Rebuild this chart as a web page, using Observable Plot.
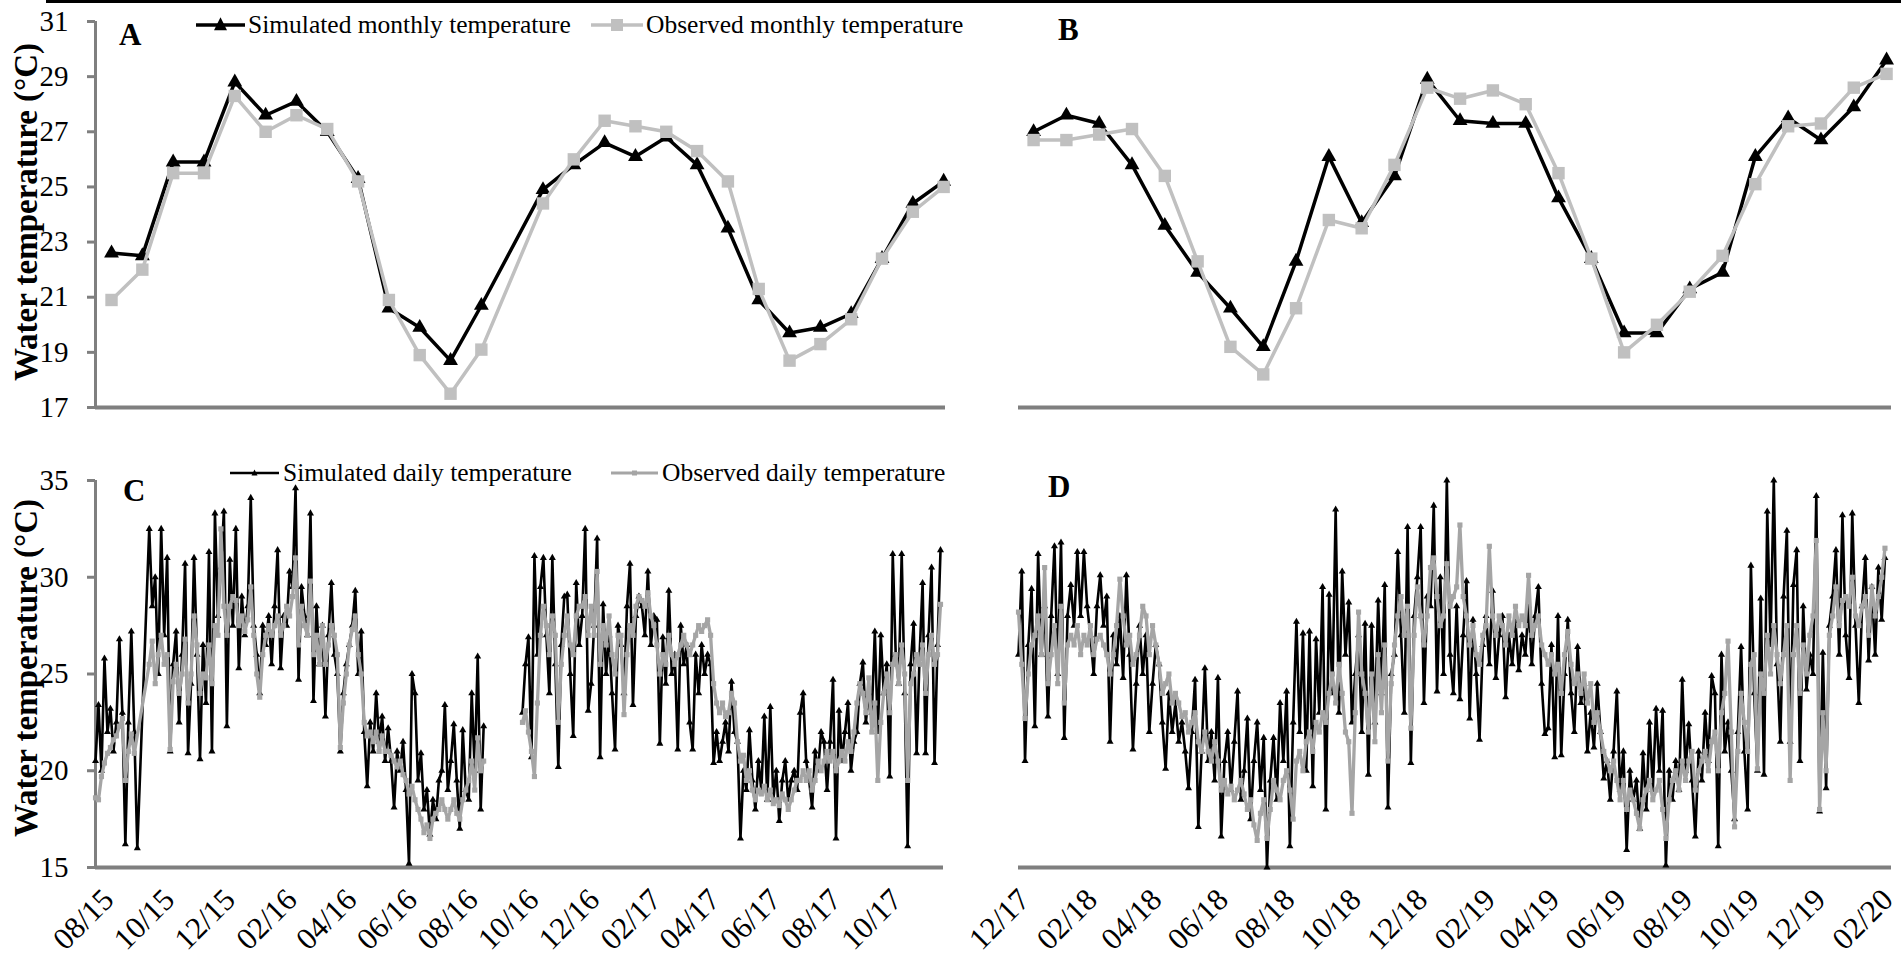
<!DOCTYPE html>
<html><head><meta charset="utf-8">
<script src="https://cdn.jsdelivr.net/npm/d3@7"></script>
<script src="https://cdn.jsdelivr.net/npm/@observablehq/plot@0.6"></script>
<style>
html,body{margin:0;padding:0;background:#fff;}
#fig{position:relative;width:1901px;height:965px;overflow:hidden;background:#fff;font-family:"Liberation Serif","Times New Roman",serif;color:#000;}
.txt{position:absolute;white-space:nowrap;line-height:1;}
</style></head><body><div id="fig"></div>
<script>
// ---------------- DATA ----------------
// Monthly (panel A: Aug 2015 - Nov 2017, Sep 2016 missing)
const monthsA = ["08/15","09/15","10/15","11/15","12/15","01/16","02/16","03/16","04/16","05/16","06/16","07/16","08/16","09/16","10/16","11/16","12/16","01/17","02/17","03/17","04/17","05/17","06/17","07/17","08/17","09/17","10/17","11/17"];
const simMonthlyA = [22.6,22.5,25.9,25.9,28.8,27.6,28.1,27.0,25.3,20.6,19.9,18.7,20.7,null,24.9,25.8,26.6,26.1,26.8,25.8,23.5,20.9,19.7,19.9,20.4,22.4,24.4,25.2];
const obsMonthlyA = [20.9,22.0,25.5,25.5,28.3,27.0,27.6,27.1,25.2,20.9,18.9,17.5,19.1,null,24.4,26.0,27.4,27.2,27.0,26.3,25.2,21.3,18.7,19.3,20.2,22.4,24.1,25.0];
// Monthly (panel B: Dec 2017 - Feb 2020)
const monthsB = ["12/17","01/18","02/18","03/18","04/18","05/18","06/18","07/18","08/18","09/18","10/18","11/18","12/18","01/19","02/19","03/19","04/19","05/19","06/19","07/19","08/19","09/19","10/19","11/19","12/19","01/20","02/20"];
const simMonthlyB = [27.0,27.6,27.3,25.8,23.6,21.9,20.6,19.2,22.3,26.1,23.7,25.4,28.9,27.4,27.3,27.3,24.6,22.4,19.7,19.7,21.3,21.9,26.1,27.5,26.7,27.9,29.6];
const obsMonthlyB = [26.7,26.7,26.9,27.1,25.4,22.3,19.2,18.2,20.6,23.8,23.5,25.8,28.6,28.2,28.5,28.0,25.5,22.4,19.0,20.0,21.2,22.5,25.1,27.2,27.3,28.6,29.1];

// Daily series, one value every STEP_DAYS days from the start date (null = no record)
const STEP_DAYS = 3;
const startC = "2015-08-01", endC = "2017-11-30", gapEndC = "2016-09-20";
const simDailyC = [
20.5,23.4,20.0,25.8,22.0,23.2,21.0,22.5,26.8,23.0,
16.2,22.5,27.2,22.0,16.0,null,null,null,32.5,28.5,
30.0,25.0,32.5,27.0,31.0,21.0,25.5,27.2,22.5,26.0,
30.7,20.9,24.5,31.0,26.0,20.6,26.5,23.5,31.3,21.0,
33.3,28.0,30.5,33.4,22.3,30.9,27.5,32.5,25.3,29.0,
27.0,28.5,34.1,27.5,26.0,24.0,27.5,26.5,28.0,25.5,
28.5,31.4,25.3,28.0,27.5,30.3,29.5,34.6,24.7,29.5,
28.0,27.0,33.3,23.6,28.5,25.5,27.5,22.8,27.0,29.7,
26.0,25.0,21.0,24.0,25.5,26.5,27.5,29.3,25.0,27.2,
22.0,19.2,22.5,21.0,24.0,21.5,22.8,20.5,22.2,20.5,
18.1,21.0,20.0,21.5,19.0,15.2,25.0,24.0,19.5,20.9,
18.0,19.0,16.7,18.5,17.5,19.5,20.0,23.4,19.0,20.5,
22.4,19.5,17.0,22.1,19.0,18.5,24.0,20.0,25.9,18.0,
22.3,null,null,null,null,null,null,null,null,null,
null,null,null,23.0,25.5,26.9,20.7,31.1,26.0,29.5,
31.0,27.0,24.0,31.0,25.5,20.2,26.5,29.0,29.1,25.0,
21.8,29.7,26.5,28.0,32.5,23.1,24.5,27.5,32.0,20.7,
28.6,25.0,27.0,24.0,21.1,27.5,26.5,24.0,28.5,30.7,
23.4,28.0,29.0,28.5,27.0,30.3,26.5,28.0,27.8,21.4,
26.9,24.5,29.3,25.0,26.0,21.1,27.5,25.5,26.5,22.5,
21.1,26.0,24.0,26.5,25.0,26.0,25.5,20.4,22.0,20.5,
21.5,22.5,21.0,24.6,22.0,21.5,16.5,20.0,19.0,22.1,
19.5,18.0,20.5,19.0,22.8,18.5,23.3,18.5,20.0,17.4,
19.5,20.5,18.5,19.5,20.0,19.0,23.0,24.0,20.5,19.5,
18.1,21.0,20.0,22.0,21.5,19.0,21.5,24.7,16.5,23.1,
20.5,22.0,23.5,20.0,21.5,22.0,24.5,25.6,22.5,24.0,
23.0,27.2,22.0,27.0,24.0,25.5,19.7,31.2,26.0,24.5,
31.2,24.0,16.1,25.5,27.6,20.9,26.0,29.7,20.9,27.0,
30.5,20.4,26.5,31.4];
const obsDailyC = [
18.6,18.5,19.7,20.4,20.9,21.2,21.6,21.8,22.3,22.7,
19.5,21.0,21.9,20.9,null,null,null,null,25.5,26.7,
24.5,26.0,27.0,25.5,26.0,21.1,24.6,25.5,24.0,25.0,
26.8,23.5,25.0,28.0,26.5,24.0,25.0,24.8,26.5,24.5,
27.5,27.0,32.5,28.5,27.0,28.5,29.0,28.8,27.5,28.0,
27.2,27.8,29.5,27.0,25.0,23.8,26.0,27.0,27.5,27.0,
27.5,28.0,27.0,27.5,28.5,28.0,29.0,31.0,26.5,28.5,
27.5,27.0,29.8,26.0,27.0,25.5,27.5,25.5,26.5,27.5,
27.0,26.0,21.2,23.5,25.0,26.5,27.3,28.0,26.0,25.0,
22.5,21.8,22.0,21.5,22.0,21.0,21.8,21.0,21.0,20.8,
20.5,20.2,20.5,19.8,19.5,18.8,19.2,18.5,18.0,17.5,
16.8,17.2,16.5,17.5,17.8,18.0,18.5,18.0,17.5,18.0,
18.5,17.8,17.5,18.5,19.0,19.5,20.5,19.0,21.7,20.0,
20.5,null,null,null,null,null,null,null,null,null,
null,null,null,22.5,23.1,22.0,21.0,19.7,23.5,27.0,
28.5,27.5,26.0,28.0,27.0,22.5,25.5,27.0,28.0,26.5,
26.0,28.0,28.5,28.5,29.0,27.0,28.5,27.0,30.3,25.5,
27.5,26.5,28.0,26.0,25.0,27.0,27.0,22.9,26.0,27.5,
27.0,28.5,29.0,28.8,28.5,29.2,28.0,27.5,26.5,25.0,
26.0,25.5,27.0,26.0,25.5,26.0,26.5,27.0,26.5,26.0,
26.5,27.0,27.5,27.2,27.5,27.8,27.0,24.5,23.5,23.0,
23.5,22.8,23.0,24.0,23.5,21.5,20.5,20.8,19.5,20.0,
19.0,18.5,19.0,18.8,19.2,18.5,19.0,18.3,18.5,18.2,
18.8,18.5,18.0,18.5,19.0,19.5,19.5,20.0,19.5,20.0,
19.0,19.5,20.5,20.0,20.5,21.0,20.5,21.0,20.0,20.5,
21.0,20.5,21.5,21.0,22.0,23.5,24.5,24.0,23.0,24.8,
22.0,23.5,19.5,22.5,24.0,25.0,23.0,25.5,26.0,24.5,
26.5,25.0,19.5,24.5,25.0,26.0,25.5,26.5,24.0,26.0,
27.0,25.5,26.0,28.6];

const startD = "2017-12-01", endD = "2020-02-10";
const simDailyD = [
26.0,30.3,20.5,26.5,29.4,22.3,31.2,26.0,28.5,22.8,
28.0,31.6,25.0,31.8,21.7,28.0,29.6,27.5,31.3,28.0,
31.3,28.5,27.0,25.0,28.5,30.1,27.5,29.0,21.5,27.0,
25.5,28.0,24.8,30.1,26.0,21.1,24.5,27.5,25.0,27.0,
22.0,24.5,26.5,25.5,22.5,20.1,24.0,22.0,23.5,21.5,
22.5,21.0,19.1,22.0,24.7,17.1,21.0,25.3,20.5,22.0,
19.5,24.8,16.6,20.5,22.0,19.0,21.5,24.1,18.5,20.0,
22.7,17.5,20.5,22.5,19.0,21.7,15.0,19.5,21.7,18.5,
23.5,20.5,24.1,16.1,22.5,27.7,22.0,27.1,20.0,27.2,
19.2,26.8,23.0,29.5,18.0,29.1,24.0,33.5,23.0,30.3,
26.0,28.7,22.5,25.0,27.0,22.0,27.6,19.8,27.5,22.5,
28.8,24.0,29.6,18.1,25.0,26.0,31.3,27.0,23.0,32.6,
20.4,28.0,30.0,32.6,23.5,29.0,28.5,33.7,24.1,30.0,
25.0,35.0,26.0,24.0,28.5,23.7,27.0,29.8,22.7,27.8,
25.0,21.6,26.5,28.0,25.5,29.3,24.8,27.0,28.0,23.8,
27.0,25.5,27.7,25.2,27.0,26.0,28.5,25.5,28.0,29.5,
24.5,21.9,22.2,26.5,20.7,28.0,20.8,25.0,27.8,24.0,
22.0,26.4,23.5,24.5,21.0,23.0,21.2,24.5,22.0,19.6,
20.5,18.5,21.0,24.1,19.0,21.0,15.9,20.0,18.5,19.5,
17.0,20.9,18.0,22.5,19.0,23.2,20.0,23.1,15.1,20.0,
18.5,20.5,19.0,24.7,20.0,22.4,19.5,16.6,21.0,19.5,
23.0,20.5,24.9,24.0,16.1,26.0,21.0,22.5,20.0,17.5,
22.0,26.4,21.0,18.0,30.6,24.0,20.0,28.9,19.8,33.4,
26.5,35.0,25.5,21.5,29.0,32.4,21.5,29.6,31.4,20.5,
28.5,24.2,26.0,25.0,34.2,17.9,26.1,19.1,27.5,29.0,
31.4,26.0,33.2,27.0,24.8,33.3,27.5,23.5,28.5,31.0,
25.7,29.5,26.0,30.5,27.8,31.0];
const obsDailyD = [
28.2,25.5,22.7,25.0,26.5,27.0,28.0,26.0,30.5,24.5,
26.0,27.5,24.5,28.5,23.5,26.5,27.0,26.5,27.5,26.0,
27.0,26.5,27.5,26.0,26.8,27.0,26.5,26.0,25.0,26.0,
27.5,29.9,28.0,26.5,27.0,25.5,26.0,27.0,28.5,28.0,
26.0,27.5,26.5,25.5,24.0,24.5,25.0,23.5,24.0,23.5,
22.8,23.0,22.0,22.5,23.0,21.5,21.0,22.0,21.0,20.5,
21.5,20.5,19.0,19.5,18.8,19.2,18.5,19.0,19.5,18.8,
18.0,18.5,17.2,16.4,17.8,18.5,16.5,18.0,19.5,19.0,
18.5,19.5,20.0,19.0,17.5,20.5,21.0,20.0,21.5,22.0,
21.0,22.5,22.0,23.0,22.5,24.0,25.0,23.5,25.5,24.0,
22.0,21.5,17.8,23.0,28.2,25.0,24.0,22.0,25.0,21.5,
26.0,23.0,26.5,20.5,24.5,26.5,28.0,29.0,27.0,28.5,
22.2,27.0,29.5,28.0,26.5,28.0,30.5,31.0,29.0,27.5,
28.0,30.7,28.5,29.0,29.5,32.7,29.0,28.0,26.5,27.5,
26.0,25.5,27.0,27.5,31.6,28.0,27.0,28.0,27.5,26.5,
28.0,27.0,28.5,27.5,28.0,27.5,30.1,27.0,27.5,28.0,
26.5,26.0,25.5,26.0,25.0,25.5,24.0,26.0,27.2,25.5,
24.5,25.0,24.0,25.0,23.5,24.5,22.5,23.0,22.0,21.0,
20.5,20.0,20.5,19.5,18.5,19.5,18.0,19.0,18.5,17.8,
17.0,18.5,19.0,19.5,18.5,19.0,19.5,18.0,16.5,18.5,
19.5,20.0,19.0,20.5,19.5,20.5,21.0,19.0,20.0,20.5,
21.0,20.0,21.5,22.0,20.0,23.0,24.0,26.7,22.0,17.1,
21.0,24.0,22.5,21.0,25.5,26.0,20.1,25.0,24.0,27.0,
25.0,27.5,26.0,24.5,26.0,27.5,19.5,26.0,27.5,24.0,
26.5,25.0,27.0,28.0,31.9,18.0,23.0,20.0,27.0,28.0,
29.5,27.5,28.8,29.0,28.5,30.0,28.0,27.5,28.5,29.0,
27.0,29.5,28.0,29.0,30.0,31.5];

// Axis ticks / labels
const yTicksMonthly = [17,19,21,23,25,27,29,31];
const yTicksDaily = [15,20,25,30,35];
const xTickLabelsC = ["08/15","10/15","12/15","02/16","04/16","06/16","08/16","10/16","12/16","02/17","04/17","06/17","08/17","10/17"];
const xTickLabelsD = ["12/17","02/18","04/18","06/18","08/18","10/18","12/18","02/19","04/19","06/19","08/19","10/19","12/19","02/20"];
const yTitle = "Water temperature (°C)";
const legendMonthly = ["Simulated monthly temperature","Observed monthly temperature"];
const legendDaily = ["Simulated daily temperature","Observed daily temperature"];
const panelLetters = ["A","B","C","D"];

// ---------------- HELPERS ----------------
const AX = "#7f7f7f", MGREY = "#c0c0c0", DGREY = "#a5a5a5";
const FONT = "'Liberation Serif','Times New Roman',serif";
const utc = s => new Date(s + "T00:00:00Z");
const parseTick = s => { const [m, y] = s.split("/").map(Number); return new Date(Date.UTC(2000 + y, m - 1, 1)); };
const fmt = d3.utcFormat("%m/%y");
const monthlyRows = vals => vals.map((v, i) => ({i, v})).filter(d => d.v != null);
function dailyRows(start, vals, breakAt) {
  const t0 = utc(start).getTime();
  const b = breakAt ? utc(breakAt).getTime() : Infinity;
  const out = [];
  vals.forEach((v, i) => {
    if (v == null) return;
    const t = t0 + i * STEP_DAYS * 86400000;
    out.push({date: new Date(t), v, seg: t >= b ? 1 : 0});
  });
  return out;
}
const fig = document.getElementById("fig");
function put(el, left, top) { el.style.position = "absolute"; el.style.left = left + "px"; el.style.top = top + "px"; fig.appendChild(el); return el; }
function text(str, left, top, size, bold) {
  const d = document.createElement("div"); d.className = "txt"; d.textContent = str;
  d.style.fontSize = size + "px"; if (bold) d.style.fontWeight = "bold";
  return put(d, left, top);
}
function legendItem(x1, x2, cy, color, sw, symbol, msize, textX, label, fs) {
  const w = x2 - x1, h = 30, c = w / 2, m = h / 2;
  let mk = "";
  if (symbol === "triangle") { const s = msize; mk = `<path d="M${c},${m - s*0.6}L${c + s/2},${m + s*0.4}L${c - s/2},${m + s*0.4}Z" fill="${color}"/>`; }
  else { mk = `<rect x="${c - msize/2}" y="${m - msize/2}" width="${msize}" height="${msize}" fill="${color}"/>`; }
  const wrap = document.createElement("div");
  wrap.innerHTML = `<svg width="${w}" height="${h}" style="display:block;overflow:visible"><line x1="0" y1="${m}" x2="${w}" y2="${m}" stroke="${color}" stroke-width="${sw}"/>${mk}</svg>`;
  put(wrap, x1, cy - m);
  text(label, textX, cy - 0.5065 * fs, fs, false);
}
function rotatedTitle(str, cx, cy, size) {
  const w = document.createElement("div"); w.style.width = "0"; w.style.height = "0";
  const s = document.createElement("div"); s.className = "txt"; s.textContent = str;
  s.style.fontSize = size + "px"; s.style.fontWeight = "bold"; s.style.position = "absolute"; s.style.left = "0"; s.style.top = "0";
  s.style.transformOrigin = "0 0"; s.style.transform = "rotate(-90deg) translate(-50%,-50%)";
  w.appendChild(s); put(w, cx, cy);
}
const baseStyle = {background: "transparent", fontFamily: FONT, overflow: "visible"};
const xAxisOpts = {tickFormat: fmt, tickSize: 0, tickPadding: 27, tickRotate: -45, fontSize: 31, label: null};

// ---------------- PANEL A ----------------
const xDomA = [-0.52, 27.06];
const pA = Plot.plot({
  width: 960, height: 440, marginLeft: 95, marginRight: 15, marginTop: 21, marginBottom: 33,
  style: baseStyle,
  x: {type: "linear", domain: xDomA, axis: null},
  y: {domain: [17, 31]},
  marks: [
    Plot.axisY({ticks: yTicksMonthly, tickSize: 8, tickFormat: () => "", stroke: AX, strokeWidth: 3, label: null}),
    Plot.axisY({ticks: yTicksMonthly, tickSize: 0, tickPadding: 27, fontSize: 29, label: null}),
    Plot.ruleX([xDomA[0]], {y1: 17, y2: 31, stroke: AX, strokeWidth: 3}),
    Plot.ruleY([17], {stroke: AX, strokeWidth: 4}),
    Plot.line(monthlyRows(simMonthlyA), {x: "i", y: "v", stroke: "#000", strokeWidth: 3.5}),
    Plot.dot(monthlyRows(simMonthlyA), {x: "i", y: "v", symbol: "triangle", r: 5.5, fill: "#000"}),
    Plot.line(monthlyRows(obsMonthlyA), {x: "i", y: "v", stroke: MGREY, strokeWidth: 3.5}),
    Plot.dot(monthlyRows(obsMonthlyA), {x: "i", y: "v", symbol: "square", r: 7, fill: MGREY})
  ]
});
put(pA, 0, 0);

// ---------------- PANEL B ----------------
const xDomB = [-0.46, 26.15];
const pB = Plot.plot({
  width: 941, height: 440, marginLeft: 58, marginRight: 10, marginTop: 21, marginBottom: 33,
  style: baseStyle,
  x: {type: "linear", domain: xDomB, axis: null},
  y: {domain: [17, 31], axis: null},
  marks: [
    Plot.ruleY([17], {stroke: AX, strokeWidth: 4}),
    Plot.line(monthlyRows(simMonthlyB), {x: "i", y: "v", stroke: "#000", strokeWidth: 3.5}),
    Plot.dot(monthlyRows(simMonthlyB), {x: "i", y: "v", symbol: "triangle", r: 5.5, fill: "#000"}),
    Plot.line(monthlyRows(obsMonthlyB), {x: "i", y: "v", stroke: MGREY, strokeWidth: 3.5}),
    Plot.dot(monthlyRows(obsMonthlyB), {x: "i", y: "v", symbol: "square", r: 7, fill: MGREY})
  ]
});
put(pB, 960, 0);

// ---------------- PANEL C ----------------
const simC = dailyRows(startC, simDailyC, gapEndC), obsC = dailyRows(startC, obsDailyC, gapEndC);
const pC = Plot.plot({
  width: 960, height: 525, marginLeft: 95, marginRight: 17, marginTop: 40, marginBottom: 98,
  style: baseStyle,
  x: {type: "utc", domain: [utc(startC), utc(endC)]},
  y: {domain: [15, 35]},
  marks: [
    Plot.axisY({ticks: yTicksDaily, tickSize: 8, tickFormat: () => "", stroke: AX, strokeWidth: 3, label: null}),
    Plot.axisY({ticks: yTicksDaily, tickSize: 0, tickPadding: 27, fontSize: 29, label: null}),
    Plot.axisX({ticks: xTickLabelsC.map(parseTick), ...xAxisOpts, dx: 13}),
    Plot.ruleX([utc(startC)], {y1: 15, y2: 35, stroke: AX, strokeWidth: 3}),
    Plot.ruleY([15], {stroke: AX, strokeWidth: 4}),
    Plot.line(simC, {x: "date", y: "v", z: "seg", stroke: "#000", strokeWidth: 2.6}),
    Plot.dot(simC, {x: "date", y: "v", symbol: "triangle", r: 2.6, fill: "#000"}),
    Plot.line(obsC, {x: "date", y: "v", z: "seg", stroke: DGREY, strokeWidth: 3.3}),
    Plot.dot(obsC, {x: "date", y: "v", symbol: "square", r: 2.9, fill: DGREY})
  ]
});
put(pC, 0, 440);

// ---------------- PANEL D ----------------
const simD = dailyRows(startD, simDailyD), obsD = dailyRows(startD, obsDailyD);
const pD = Plot.plot({
  width: 941, height: 525, marginLeft: 58, marginRight: 10, marginTop: 40, marginBottom: 98,
  style: baseStyle,
  x: {type: "utc", domain: [utc(startD), utc(endD)]},
  y: {domain: [15, 35], axis: null},
  marks: [
    Plot.axisX({ticks: xTickLabelsD.map(parseTick), ...xAxisOpts, dx: 6}),
    Plot.ruleY([15], {stroke: AX, strokeWidth: 4}),
    Plot.line(simD, {x: "date", y: "v", stroke: "#000", strokeWidth: 2.6}),
    Plot.dot(simD, {x: "date", y: "v", symbol: "triangle", r: 2.6, fill: "#000"}),
    Plot.line(obsD, {x: "date", y: "v", stroke: DGREY, strokeWidth: 3.3}),
    Plot.dot(obsD, {x: "date", y: "v", symbol: "square", r: 2.9, fill: DGREY})
  ]
});
put(pD, 960, 440);

// ---------------- TEXT, LEGENDS ----------------
const topLine = document.createElement("div");
topLine.style.width = (1901 - 46) + "px"; topLine.style.height = "2.5px"; topLine.style.background = "#000";
put(topLine, 46, 0);

rotatedTitle(yTitle, 26, 212, 33);
rotatedTitle(yTitle, 26, 668, 33);

text(panelLetters[0], 119, 19, 31, true);
text(panelLetters[1], 1058, 14, 31, true);
text(panelLetters[2], 123, 475, 31, true);
text(panelLetters[3], 1048, 471, 31, true);

legendItem(196, 245, 25, "#000", 3.5, "triangle", 13, 248, legendMonthly[0], 25.5);
legendItem(591, 643, 25, MGREY, 3.5, "square", 12, 646, legendMonthly[1], 25.5);
legendItem(230, 279, 473, "#000", 2.5, "triangle", 6, 283, legendDaily[0], 25.5);
legendItem(611, 658, 473, DGREY, 3, "square", 5, 662, legendDaily[1], 25.5);
</script></body></html>
